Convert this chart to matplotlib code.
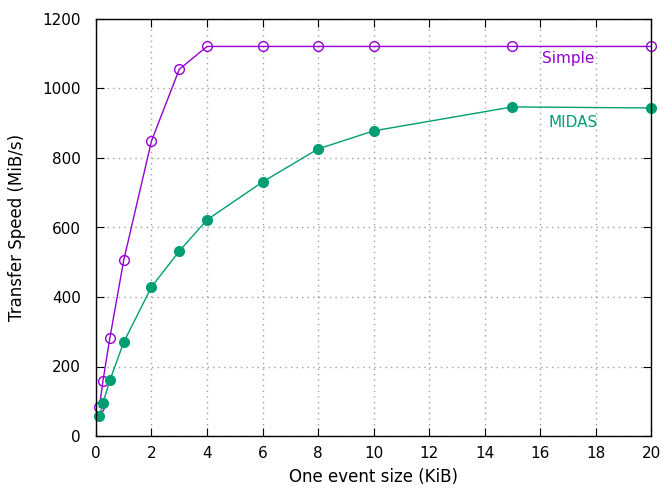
import numpy as np
import matplotlib.pyplot as plt

size_simple = [0.125, 0.25, 0.5, 1, 2, 3, 4, 6, 8, 10, 15, 20]
speed_simple = [83, 158, 282, 506, 849, 1055, 1121, 1121, 1121, 1121, 1121, 1121]
size_midas = [0.125, 0.25, 0.5, 1, 2, 3, 4, 6, 8, 10, 15, 20]
speed_midas = [58, 95, 160, 270, 429, 532, 622, 731, 826, 878, 947, 944]

purple = '#9400d3'
green = '#009e73'

plt.rcParams['font.family'] = 'DejaVu Sans'
fig = plt.figure(figsize=(6.61, 5.0), dpi=100)
ax = fig.add_axes([0.1452, 0.128, 0.8398, 0.834])

ax.plot(size_simple, speed_simple, color=purple, linewidth=1, marker='o',
        markersize=7, markerfacecolor='none', markeredgewidth=1, clip_on=False)
ax.plot(size_midas, speed_midas, color=green, linewidth=1, marker='o',
        markersize=7, clip_on=False)

ax.text(17.0, 1085, 'Simple', color=purple, fontsize=11, ha='center', va='center')
ax.text(17.2, 903, 'MIDAS', color=green, fontsize=11, ha='center', va='center')

ax.set_xlim(0, 20)
ax.set_ylim(0, 1200)
ax.set_xticks(np.arange(0, 21, 2))
ax.set_yticks(np.arange(0, 1201, 200))
ax.tick_params(direction='in', top=True, right=True, length=6, labelsize=11)
ax.tick_params(axis='y', pad=11)
ax.tick_params(axis='x', pad=7)
ax.grid(True, color='#a0a0a0', linestyle=(0, (1, 3)), linewidth=1)
for s in ax.spines.values():
    s.set_linewidth(1)

ax.set_xlabel('One event size (KiB)', fontsize=12, labelpad=5)
ax.set_ylabel('Transfer Speed (MiB/s)', fontsize=12, labelpad=12)

plt.savefig('out.png', dpi=100)
